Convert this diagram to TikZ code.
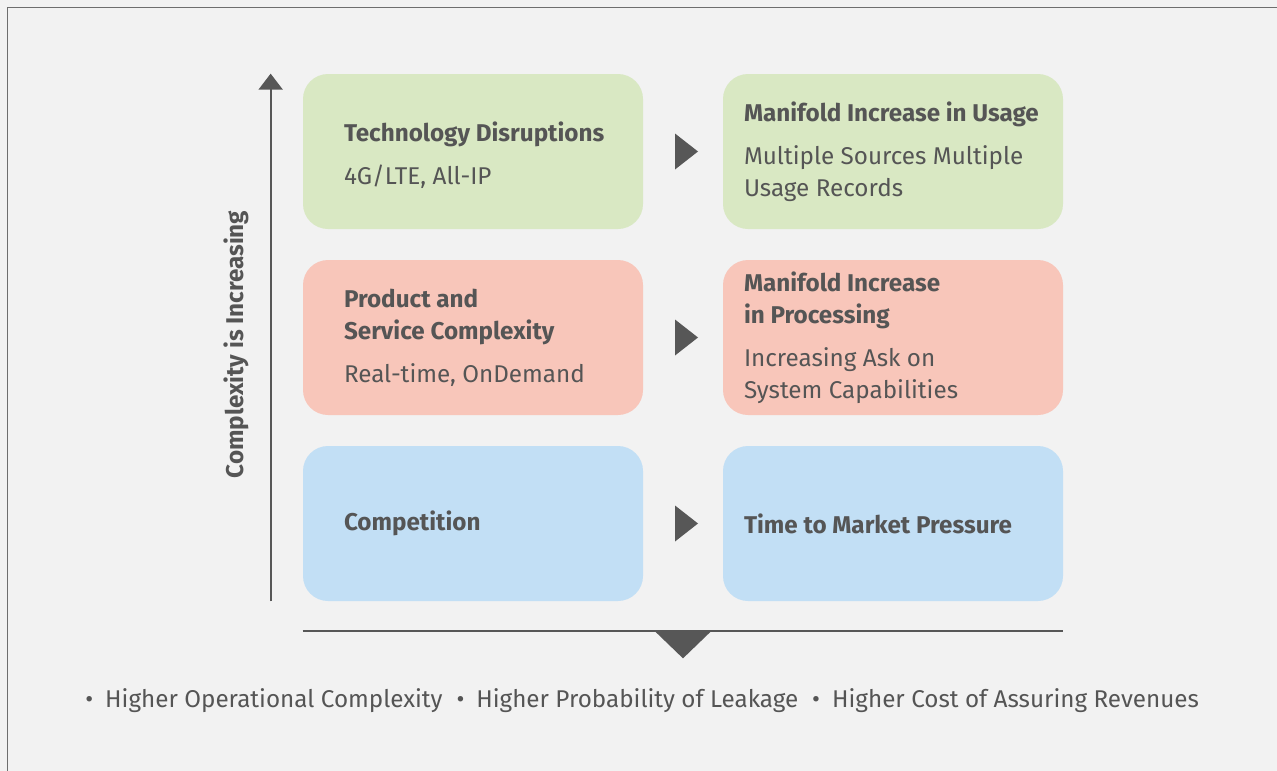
\documentclass[tikz,border=0pt]{standalone}
\usepackage{fontspec}
\setmainfont{Fira Sans}
\usepackage{tikz}
\usetikzlibrary{matrix,shapes.geometric,arrows.meta,calc}

\definecolor{bgcol}{HTML}{F2F2F2}
\definecolor{framecol}{HTML}{6E6E6E}
\definecolor{inkgray}{HTML}{555555}
\definecolor{markgray}{HTML}{575757}
\definecolor{techgreen}{HTML}{D9E8C3}
\definecolor{procpink}{HTML}{F8C6BA}
\definecolor{compblue}{HTML}{C2DFF5}

\newcommand{\cardfont}{\fontsize{13.8}{18.2}\selectfont}

\tikzset{
  card/.style={draw=none, rounded corners=5mm, minimum width=6.8cm, minimum height=3.1cm, inner sep=0pt},
  pointer/.style={fill=markgray, draw=none, isosceles triangle, isosceles triangle stretches, minimum width=7.2mm, minimum height=4.6mm, inner sep=0pt},
  cardtext/.style={align=left, inner sep=0pt, anchor=west, text=inkgray}
}

\begin{document}
\begin{tikzpicture}[font=\cardfont]
\useasboundingbox (0,0) rectangle (25.54,-15.42);
\fill[bgcol] (0,0) rectangle (25.54,-15.42);
\draw[framecol, line width=0.9pt] (0.15,-15.8) -- (0.15,-0.15) -- (25.9,-0.15);

\matrix (m)[matrix of nodes, column sep=5mm, row sep=6.2mm, nodes in empty cells, nodes={anchor=center}] at (13.66,-6.75) {
|[card,fill=techgreen]| &[1.4mm] |[pointer]| & |[card,fill=techgreen]| \\
|[card,fill=procpink]|  & |[pointer]| & |[card,fill=procpink]|  \\
|[card,fill=compblue]|  & |[pointer]| & |[card,fill=compblue]|  \\
};

% texts in the cards
\node[cardtext] (tech) at ([xshift=8.2mm,yshift=-0.8mm]m-1-1.west) {\textbf{Technology Disruptions}\\[6.3pt]4G/LTE, All-IP};
\node[cardtext] (usage) at ([xshift=4.2mm]m-1-3.west) {\textbf{Manifold Increase in Usage}\\[6.3pt]Multiple Sources Multiple\\Usage Records};
\node[cardtext] (prod) at ([xshift=8.2mm]m-2-1.west) {\textbf{Product and}\\\textbf{Service Complexity}\\[6.3pt]Real-time, OnDemand};
\node[cardtext] (proc) at ([xshift=4.2mm]m-2-3.west) {\textbf{Manifold Increase}\\\textbf{in Processing}\\[6.3pt]Increasing Ask on\\System Capabilities};
\node[cardtext] (comp) at ([xshift=8.2mm]m-3-1.west) {\textbf{Competition}};
\node[cardtext] (ttm) at ([xshift=4.2mm]m-3-3.west) {\textbf{Time to Market Pressure}};

% axis
\draw[markgray, line width=1.1pt, -{Triangle[width=4.8mm,length=3.2mm]}] ([xshift=-6.4mm]m-3-1.south west) -- ([xshift=-6.4mm]m-1-1.north west);
\node[rotate=90, text=inkgray, font=\cardfont\bfseries] (axislbl) at ([xshift=-13.2mm,yshift=-1.4mm]m-2-1.west) {Complexity is Increasing};

% result bar
\coordinate (barL) at ([yshift=-6mm]m-3-1.south west);
\coordinate (barR) at ([yshift=-6mm]m-3-3.south east);
\coordinate (barM) at ($(barL)!0.5!(barR)$);
\draw[markgray, line width=1.1pt] (barL) -- (barR);
\fill[markgray] ([xshift=-5.6mm]barM) -- ([xshift=5.6mm]barM) -- ([yshift=-5.4mm]barM) -- cycle;

\node[anchor=base west, text=inkgray, inner sep=0pt] (risks) at (1.7,-14.14) {\textbullet\hspace{2.4mm}Higher Operational Complexity\hspace{2.8mm}\textbullet\hspace{2.4mm}Higher Probability of Leakage\hspace{2.8mm}\textbullet\hspace{2.4mm}Higher Cost of Assuring Revenues};
\end{tikzpicture}
\end{document}
